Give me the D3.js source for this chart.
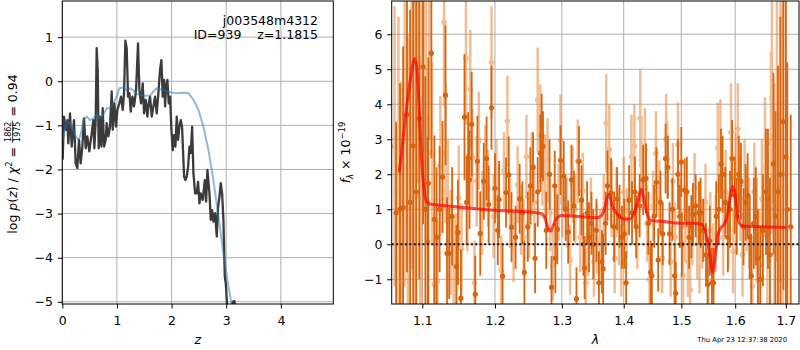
<!DOCTYPE html>
<html>
<head>
<meta charset="utf-8">
<script src="https://cdn.jsdelivr.net/npm/d3@7"></script>
<style>
  body { margin: 0; background: #fff; }
  svg { font-family: "DejaVu Sans", sans-serif; }
  text { white-space: pre; }
</style>
</head>
<body>
<svg id="fig" width="800" height="350"></svg>
<script>
// ---- left panel: redshift probability ----
const pzZ = [0.007,0.030,0.068,0.092,0.110,0.141,0.172,0.214,0.245,0.275,
  0.306,0.336,0.367,0.397,0.428,0.458,0.495,0.538,0.568,0.587,
  0.611,0.629,0.648,0.666,0.690,0.715,0.739,0.764,0.794,0.813,
  0.843,0.873,0.904,0.922,0.953,0.983,1.008,1.044,1.075,1.106,
  1.130,1.154,1.179,1.203,1.228,1.252,1.283,1.313,1.350,1.386,
  1.411,1.441,1.472,1.496,1.527,1.557,1.582,1.606,1.637,1.667,
  1.698,1.728,1.759,1.789,1.814,1.838,1.863,1.881,1.899,1.924,
  1.948,1.973,1.997,2.021,2.046,2.070,2.095,2.119,2.143,2.168,
  2.192,2.229,2.253,2.278,2.302,2.327,2.351,2.376,2.400,2.431,
  2.461,2.485,2.510,2.534,2.571,2.608,2.632,2.656,2.693,2.717,
  2.742,2.766,2.797,2.827,2.852,2.876,2.900,2.925,2.949,2.974,
  2.992,3.016,3.040,3.120,3.150,3.175]
const pzLogP = [-1.78,-0.80,-1.10,-0.88,-1.41,-0.73,-1.48,-0.88,-1.86,-1.97,
  -1.33,-1.86,-1.48,-0.84,-1.52,-1.25,-1.59,-1.18,-0.88,-1.52,
  -0.88,0.75,0.26,-1.52,-0.80,-1.48,-0.61,-1.48,-1.33,-0.95,
  -1.25,-1.03,-0.23,-1.10,-0.50,-1.03,-0.65,-0.50,-0.35,-0.65,
  -0.27,0.92,0.75,-0.35,-0.27,-0.69,-0.35,-0.57,-0.20,0.86,
  -0.20,-0.50,-0.05,-0.73,-0.42,-0.80,-0.50,-0.35,-0.80,-0.57,
  -0.35,-0.73,-0.27,0.26,0.48,-0.35,0.03,-0.57,-0.12,0.03,
  -0.50,-0.35,-1.10,-1.56,-1.22,-1.48,-0.80,-1.33,-1.03,-0.88,
  -1.03,-2.16,-2.24,-2.16,-1.94,-1.48,-1.63,-1.03,-2.09,-2.54,
  -2.54,-2.28,-2.77,-2.54,-2.69,-2.24,-2.73,-2.01,-2.54,-3.14,
  -2.92,-3.18,-2.99,-3.52,-2.84,-2.62,-2.31,-2.54,-3.14,-4.43,
  -4.58,-5.07,-5.6,-5.0,-4.98,-5.5]
const priorZ = [0.007,0.080,0.141,0.233,0.294,0.336,0.385,0.446,0.507,0.568,
  0.629,0.690,0.751,0.813,0.873,0.934,0.995,1.044,1.118,1.179,
  1.240,1.301,1.362,1.484,1.606,1.667,1.728,1.850,1.973,2.095,
  2.217,2.308,2.400,2.492,2.583,2.675,2.766,2.858,2.949,3.041,
  3.102,3.150]
const priorLogP = [-1.33,-0.91,-0.95,-1.22,-1.33,-1.22,-0.88,-0.80,-0.88,-0.84,
  -0.76,-0.84,-0.76,-0.61,-0.61,-0.50,-0.35,-0.16,-0.14,-0.20,
  -0.16,-0.20,-0.29,-0.32,-0.33,-0.23,-0.16,-0.20,-0.25,-0.27,
  -0.26,-0.27,-0.42,-0.65,-1.03,-1.56,-2.24,-3.07,-3.90,-4.66,
  -5.07,-5.5]
const zTicks = [0, 1, 2, 3, 4]
const logpTicks = [-5, -4, -3, -2, -1, 0, 1]

// ---- right panel: spectrum, [wavelength, flux, error] ----
const darkPoints = [
  [1.066,0.9,2.6],[1.071,1.0,3.6],[1.075,1.05,4.6],[1.080,3.7,4.5],[1.084,1.2,5.5],
  [1.088,2.81,5.5],[1.092,1.5,5.8],[1.096,3.6,4.6],[1.101,5.07,4.5],[1.104,1.0,3.8],
  [1.107,0.07,3.0],[1.108,1.74,3.6],[1.112,5.46,3.0],[1.116,0.71,2.4],[1.119,0.2,2.0],
  [1.123,1.0,1.8],[1.127,1.92,1.6],[1.131,4.26,2.0],[1.133,-0.26,1.6],[1.136,-0.26,1.3],
  [1.140,0.8,1.4],[1.146,-0.64,1.2],[1.148,0.34,1.5],[1.152,-1.54,1.4],[1.157,3.63,1.8],
  [1.160,1.2,1.2],[1.162,2.47,1.3],[1.164,1.84,1.4],[1.167,3.43,1.5],[1.172,-1.43,1.1],
  [1.175,2.37,1.3],[1.179,0.31,1.2],[1.184,1.8,1.1],[1.188,2.45,1.2],[1.191,1.14,1.1],
  [1.195,3.9,1.2],[1.200,1.6,1.0],[1.204,0.4,1.0],[1.206,1.28,1.1],[1.211,-0.91,0.9],
  [1.216,1.48,1.0],[1.220,1.98,1.1],[1.224,0.49,1.0],[1.230,0.2,0.9],[1.236,1.3,1.0],
  [1.240,0.9,0.9],[1.243,-0.8,0.9],[1.248,0.5,1.0],[1.252,1.67,1.1],[1.256,2.2,1.0],
  [1.259,-0.4,1.0],[1.263,1.5,1.0],[1.267,2.6,1.1],[1.269,3.1,1.2],[1.271,2.8,1.0],
  [1.276,0.4,1.1],[1.281,2.0,1.0],[1.284,-1.23,0.9],[1.289,1.67,1.0],[1.290,-0.4,1.0],
  [1.293,0.43,1.0],[1.298,2.4,1.0],[1.303,1.95,1.0],[1.306,1.0,0.9],[1.310,0.35,0.9],
  [1.315,1.84,1.0],[1.319,1.1,1.0],[1.323,-1.56,0.9],[1.327,2.37,1.0],[1.331,1.26,1.0],
  [1.334,0.0,0.9],[1.336,-0.67,0.9],[1.340,0.9,0.9],[1.343,0.2,1.0],[1.347,0.6,0.9],
  [1.350,0.0,1.0],[1.355,0.4,0.9],[1.359,-1.1,0.9],[1.364,-0.5,0.9],[1.366,-0.7,1.0],
  [1.370,0.6,0.9],[1.373,1.67,1.0],[1.379,1.47,1.0],[1.384,0.5,1.0],[1.389,1.3,0.9],
  [1.393,0.8,0.9],[1.397,0.2,0.9],[1.401,0.3,1.0],[1.404,-1.1,0.9],[1.409,1.26,1.0],
  [1.414,0.9,0.9],[1.419,1.5,1.0],[1.421,0.5,0.9],[1.427,1.1,0.9],[1.433,1.84,1.0],
  [1.438,1.88,1.0],[1.442,0.6,0.9],[1.446,-0.8,0.9],[1.448,-0.9,0.9],[1.452,0.8,0.9],
  [1.456,1.77,1.0],[1.459,-0.45,0.9],[1.463,1.2,0.9],[1.467,0.3,0.9],[1.472,2.45,1.0],
  [1.476,2.2,0.9],[1.479,0.3,0.9],[1.484,1.0,0.9],[1.488,-0.9,0.9],[1.490,-1.4,0.9],
  [1.494,2.0,1.0],[1.497,0.8,0.9],[1.500,2.35,1.0],[1.501,0.0,0.9],[1.506,1.55,0.9],
  [1.510,1.5,1.0],[1.514,0.2,0.9],[1.518,0.5,0.9],[1.521,0.85,0.9],[1.526,1.1,0.9],
  [1.532,0.9,0.9],[1.535,0.9,1.0],[1.540,0.4,0.9],[1.545,-0.3,0.9],[1.548,-1.15,0.9],
  [1.552,0.1,1.0],[1.556,-1.1,1.0],[1.559,-1.1,1.0],[1.564,0.8,1.0],[1.569,1.0,1.0],
  [1.573,2.3,1.0],[1.576,2.0,1.1],[1.581,1.2,1.0],[1.586,0.2,1.0],[1.590,1.0,1.1],
  [1.594,2.45,1.1],[1.599,1.4,1.1],[1.603,0.8,1.1],[1.607,2.0,1.1],[1.611,1.8,1.1],
  [1.616,0.5,1.1],[1.620,1.2,1.1],[1.624,1.4,1.2],[1.628,0.2,1.2],[1.631,-0.9,1.2],
  [1.636,0.6,1.3],[1.640,0.8,1.4],[1.644,-0.4,1.4],[1.649,-1.0,1.5],[1.654,0.4,1.6],
  [1.660,1.5,1.8],[1.664,1.3,2.0],[1.668,-0.3,2.2],[1.675,2.3,2.6],[1.679,0.8,3.0],
  [1.684,1.5,3.6],[1.689,2.0,4.5],[1.695,3.5,4.8],[1.700,2.5,6.0],[1.703,1.0,4.2],
  [1.710,0.5,3.2]
]
const lightPoints = [
  [1.064,2.8,4.0],[1.069,1.5,5.0],[1.073,0.65,4.0],[1.077,3.3,4.5],[1.081,1.0,5.0],
  [1.086,3.8,4.5],[1.090,2.49,5.5],[1.094,5.74,4.0],[1.097,1.38,4.0],[1.099,2.72,4.5],
  [1.102,5.09,3.5],[1.105,3.58,3.5],[1.109,5.98,3.0],[1.113,2.6,2.6],[1.116,-1.14,2.0],
  [1.120,-1.06,1.8],[1.124,2.24,2.0],[1.129,6.34,2.4],[1.131,2.6,2.0],[1.134,1.4,1.6],
  [1.138,0.05,1.5],[1.142,-0.6,1.4],[1.145,-0.5,1.4],[1.149,1.33,1.5],[1.153,-0.13,1.3],
  [1.159,5.31,1.9],[1.161,1.2,1.4],[1.165,4.43,1.7],[1.168,2.47,1.4],[1.171,-1.1,1.2],
  [1.174,1.8,1.3],[1.177,2.96,1.4],[1.182,0.9,1.2],[1.186,2.2,1.2],[1.190,1.6,1.1],
  [1.195,5.2,1.6],[1.198,0.8,1.2],[1.202,1.9,1.1],[1.205,1.1,1.1],[1.209,-0.75,1.0],
  [1.213,2.1,1.1],[1.218,3.52,1.3],[1.222,0.9,1.0],[1.227,-0.08,1.0],[1.233,1.7,1.1],
  [1.238,0.7,1.0],[1.242,0.2,1.1],[1.246,2.5,1.2],[1.250,0.6,1.0],[1.254,2.0,1.2],
  [1.258,1.2,1.1],[1.263,4.12,1.5],[1.267,3.17,1.4],[1.270,2.3,1.2],[1.274,1.94,1.2],
  [1.278,2.4,1.2],[1.282,0.9,1.1],[1.286,-0.6,1.0],[1.291,0.6,1.1],[1.295,1.2,1.1],
  [1.298,2.98,1.3],[1.301,1.3,1.1],[1.308,0.9,1.0],[1.313,-0.45,1.0],[1.317,1.7,1.1],
  [1.321,1.0,1.0],[1.325,2.37,1.2],[1.329,0.2,1.0],[1.333,1.52,1.1],[1.338,-1.1,1.0],
  [1.342,0.1,1.0],[1.346,0.9,1.0],[1.351,-0.5,1.0],[1.356,0.15,1.0],[1.361,0.0,1.0],
  [1.367,1.0,1.0],[1.371,3.46,1.4],[1.376,2.7,1.3],[1.380,1.3,1.1],[1.385,-0.4,1.0],
  [1.388,1.2,1.0],[1.392,0.5,1.1],[1.396,-0.5,1.0],[1.400,1.5,1.0],[1.405,0.6,1.0],
  [1.413,2.5,1.2],[1.418,2.8,1.2],[1.423,0.4,1.1],[1.428,3.6,1.4],[1.430,2.4,1.2],
  [1.436,2.7,1.2],[1.440,0.6,1.1],[1.444,-1.0,1.0],[1.450,1.1,1.0],[1.455,2.6,1.2],
  [1.461,1.3,1.1],[1.466,-0.4,1.0],[1.473,3.0,1.3],[1.475,2.43,1.1],[1.481,-0.5,1.0],
  [1.485,1.8,1.1],[1.489,0.2,1.0],[1.494,2.85,1.2],[1.498,0.9,1.0],[1.503,-0.9,1.0],
  [1.507,0.5,1.0],[1.512,-0.5,1.0],[1.516,-1.3,1.0],[1.520,0.4,1.0],[1.524,1.6,1.0],
  [1.529,0.0,1.0],[1.533,-0.3,1.1],[1.538,0.3,1.0],[1.544,1.2,1.1],[1.549,-0.8,1.0],
  [1.553,0.4,1.1],[1.558,-0.4,1.0],[1.563,0.3,1.1],[1.567,2.75,1.3],[1.572,2.85,1.3],
  [1.577,0.2,1.1],[1.582,1.5,1.2],[1.587,0.4,1.1],[1.592,3.2,1.4],[1.596,-0.2,1.2],
  [1.601,1.9,1.3],[1.605,3.3,1.3],[1.610,1.3,1.2],[1.614,-0.3,1.2],[1.618,1.7,1.3],
  [1.622,1.0,1.2],[1.627,0.6,1.3],[1.633,-1.2,1.3],[1.637,1.5,1.4],[1.642,0.4,1.5],
  [1.647,-0.6,1.6],[1.652,1.3,1.7],[1.658,2.2,2.0],[1.663,0.3,2.2],[1.670,2.9,2.6],
  [1.672,4.17,3.0],[1.677,1.0,3.6],[1.682,3.5,4.0],[1.689,3.5,4.6],[1.694,2.0,5.2]
]
const modelPoints = [
  [1.070,2.05],[1.075,3.0],[1.080,4.0],[1.085,4.8],[1.090,5.3],[1.093,5.0],[1.096,3.8],
  [1.099,2.4],[1.102,1.6],[1.105,1.25],[1.110,1.15],[1.120,1.12],[1.150,1.06],[1.200,0.97],
  [1.250,0.92],[1.268,0.88],[1.274,0.75],[1.279,0.45],[1.283,0.38],[1.287,0.55],[1.292,0.75],
  [1.300,0.82],[1.330,0.79],[1.355,0.76],[1.362,0.8],[1.368,1.0],[1.373,1.35],[1.376,1.42],
  [1.381,1.1],[1.390,0.85],[1.400,0.72],[1.410,0.72],[1.418,0.9],[1.425,1.3],[1.430,1.57],
  [1.434,1.35],[1.440,0.85],[1.447,0.68],[1.460,0.66],[1.470,0.65],[1.480,0.62],[1.500,0.6],
  [1.520,0.6],[1.535,0.58],[1.542,0.45],[1.548,0.1],[1.553,-0.4],[1.557,-0.8],[1.561,-0.5],
  [1.566,0.2],[1.572,0.45],[1.580,0.6],[1.586,0.9],[1.591,1.4],[1.595,1.65],[1.599,1.5],
  [1.603,1.0],[1.608,0.6],[1.615,0.52],[1.650,0.5],[1.700,0.48]
]
const waveTicks = [1.1, 1.2, 1.3, 1.4, 1.5, 1.6, 1.7]
const fluxTicks = [-1, 0, 1, 2, 3, 4, 5, 6]

const svg = d3.select('#fig')
const fontSize = 12.5

function grid(g, x, y, xt, yt) {
  const [x0, x1] = x.range(), [yb, yt0] = y.range()
  g.append('g').selectAll('line').data(xt).join('line')
    .attr('x1', d => x(d)).attr('x2', d => x(d)).attr('y1', yt0).attr('y2', yb)
    .attr('stroke', '#b0b0b0').attr('stroke-width', 1)
  g.append('g').selectAll('line').data(yt).join('line')
    .attr('y1', d => y(d)).attr('y2', d => y(d)).attr('x1', x0).attr('x2', x1)
    .attr('stroke', '#b0b0b0').attr('stroke-width', 1)
}

function axes(g, x, y, xt, yt, xfmt) {
  const [x0, x1] = x.range(), [yb, yt0] = y.range()
  const bx = g.append('g').attr('transform', `translate(0,${yb})`)
    .call(d3.axisBottom(x).tickValues(xt).tickFormat(xfmt).tickSize(4.5).tickPadding(7.6))
  const ly = g.append('g').attr('transform', `translate(${x0},0)`)
    .call(d3.axisLeft(y).tickValues(yt).tickFormat(d3.format('d')).tickSize(4.5).tickPadding(4.8))
  ;[bx, ly].forEach(a => {
    a.attr('font-family', null).attr('font-size', fontSize)
    a.select('.domain').remove()
    a.selectAll('line').attr('stroke', '#000')
    a.selectAll('text').attr('fill', '#000')
  })
  g.append('rect').attr('x', x0).attr('y', yt0).attr('width', x1 - x0).attr('height', yb - yt0)
    .attr('fill', 'none').attr('stroke', '#000').attr('stroke-width', 1)
}

function clip(id, x, y) {
  const [x0, x1] = x.range(), [yb, yt0] = y.range()
  svg.append('clipPath').attr('id', id).append('rect')
    .attr('x', x0).attr('y', yt0).attr('width', x1 - x0).attr('height', yb - yt0)
}

// ---------- left panel ----------
const xz = d3.scaleLinear().domain([0, 4.96]).range([62.3, 333.3])
const yp = d3.scaleLinear().domain([-5.05, 1.82]).range([304, 1])
const left = svg.append('g')
clip('clipL', xz, yp)
grid(left, xz, yp, zTicks, logpTicks)

const lineL = d3.line().x(d => xz(d[0])).y(d => yp(d[1]))
left.append('path').datum(pzZ.map((z, i) => [z, pzLogP[i]]))
  .attr('d', lineL).attr('clip-path', 'url(#clipL)')
  .attr('fill', 'none').attr('stroke', '#3b3b3b').attr('stroke-width', 2.3).attr('stroke-linejoin', 'round')
left.append('path').datum(priorZ.map((z, i) => [z, priorLogP[i]]))
  .attr('d', lineL).attr('clip-path', 'url(#clipL)')
  .attr('fill', 'none').attr('stroke', '#1f77b4').attr('stroke-opacity', 0.5).attr('stroke-width', 2)
axes(left, xz, yp, zTicks, logpTicks, d3.format('d'))

left.append('text').attr('x', 318).attr('y', 25).attr('text-anchor', 'end')
  .attr('font-size', fontSize).text('j003548m4312')
left.append('text').attr('x', 318).attr('y', 39.3).attr('text-anchor', 'end')
  .attr('font-size', fontSize).text('ID=939    z=1.1815')

left.append('text').attr('x', 197.8).attr('y', 344).attr('text-anchor', 'middle')
  .attr('font-size', fontSize).attr('font-style', 'italic').text('z')

// rotated label built piece by piece
function pieces(g, parts) {
  let cx = 0
  parts.forEach(p => {
    if (p.frac) {
      const fs = 8
      const n = g.append('text').attr('y', -5.6).attr('font-size', fs).text(p.frac[0])
      const d = g.append('text').attr('y', 3.6).attr('font-size', fs).text(p.frac[1])
      const wn = n.node().getComputedTextLength(), wd = d.node().getComputedTextLength()
      const w = Math.max(wn, wd) + 2
      n.attr('x', cx + (w - wn) / 2)
      d.attr('x', cx + (w - wd) / 2)
      g.append('line').attr('x1', cx).attr('x2', cx + w).attr('y1', -4).attr('y2', -4)
        .attr('stroke', '#000').attr('stroke-width', 0.7)
      cx += w
    } else {
      const t = g.append('text').attr('x', cx).attr('y', p.dy || 0)
        .attr('font-size', p.fs || fontSize)
        .attr('font-style', p.it ? 'italic' : null).text(p.t)
      cx += t.node().getComputedTextLength()
    }
  })
  return cx
}

const ylabL = svg.append('g')
const wL = pieces(ylabL, [
  { t: 'log ' }, { t: 'p', it: true }, { t: '(' }, { t: 'z', it: true }, { t: ') / ' },
  { t: 'χ', it: true }, { t: '2', fs: 8.5, dy: -5 }, { t: ' = ' },
  { frac: ['1862', '1975'] }, { t: ' = 0.94' }
])
ylabL.attr('transform', `translate(16.5,${154 + wL / 2}) rotate(-90)`)

// ---------- right panel ----------
const xw = d3.scaleLog().domain([1.0604, 1.727]).range([391.7, 799])
const yf = d3.scaleLinear().domain([-1.706, 6.95]).range([304, 1])
const right = svg.append('g')
clip('clipR', xw, yf)
grid(right, xw, yf, waveTicks, fluxTicks)

const data = right.append('g').attr('clip-path', 'url(#clipR)')

function errbars(pts, color, opacity, lw, r) {
  const g = data.append('g').attr('opacity', opacity)
  g.selectAll('line').data(pts).join('line')
    .attr('x1', d => xw(d[0])).attr('x2', d => xw(d[0]))
    .attr('y1', d => yf(d[1] - d[2])).attr('y2', d => yf(d[1] + d[2]))
    .attr('stroke', color).attr('stroke-width', lw)
  g.selectAll('circle').data(pts).join('circle')
    .attr('cx', d => xw(d[0])).attr('cy', d => yf(d[1])).attr('r', r)
    .attr('fill', color)
}
errbars(lightPoints, '#e8873a', 0.55, 2.5, 2.8)
errbars(darkPoints, '#d8640e', 1, 1.8, 2.6)

data.append('path').datum(modelPoints)
  .attr('d', d3.line().curve(d3.curveMonotoneX).x(d => xw(d[0])).y(d => yf(d[1])))
  .attr('fill', 'none').attr('stroke', '#ff0000').attr('stroke-opacity', 0.7)
  .attr('stroke-width', 3).attr('stroke-linejoin', 'round')

data.append('line').attr('x1', xw.range()[0]).attr('x2', xw.range()[1])
  .attr('y1', yf(0)).attr('y2', yf(0))
  .attr('stroke', '#111').attr('stroke-width', 2).attr('stroke-dasharray', '2,2.4')

axes(right, xw, yf, waveTicks, fluxTicks, d3.format('.1f'))

right.append('text').attr('x', 595.4).attr('y', 344).attr('text-anchor', 'middle')
  .attr('font-size', fontSize).attr('font-style', 'italic').text('λ')

const ylabR = svg.append('g')
const wR = pieces(ylabR, [
  { t: 'f', it: true }, { t: 'λ', it: true, fs: 8.5, dy: 2.8 }, { t: ' × 10' },
  { t: '−19', fs: 8.5, dy: -5.2 }
])
ylabR.attr('transform', `translate(350,${152.5 + wR / 2}) rotate(-90)`)

svg.append('text').attr('x', 787).attr('y', 342).attr('text-anchor', 'end')
  .attr('font-size', 6.8).text('Thu Apr 23 12:37:38 2020')
</script>
</body>
</html>
